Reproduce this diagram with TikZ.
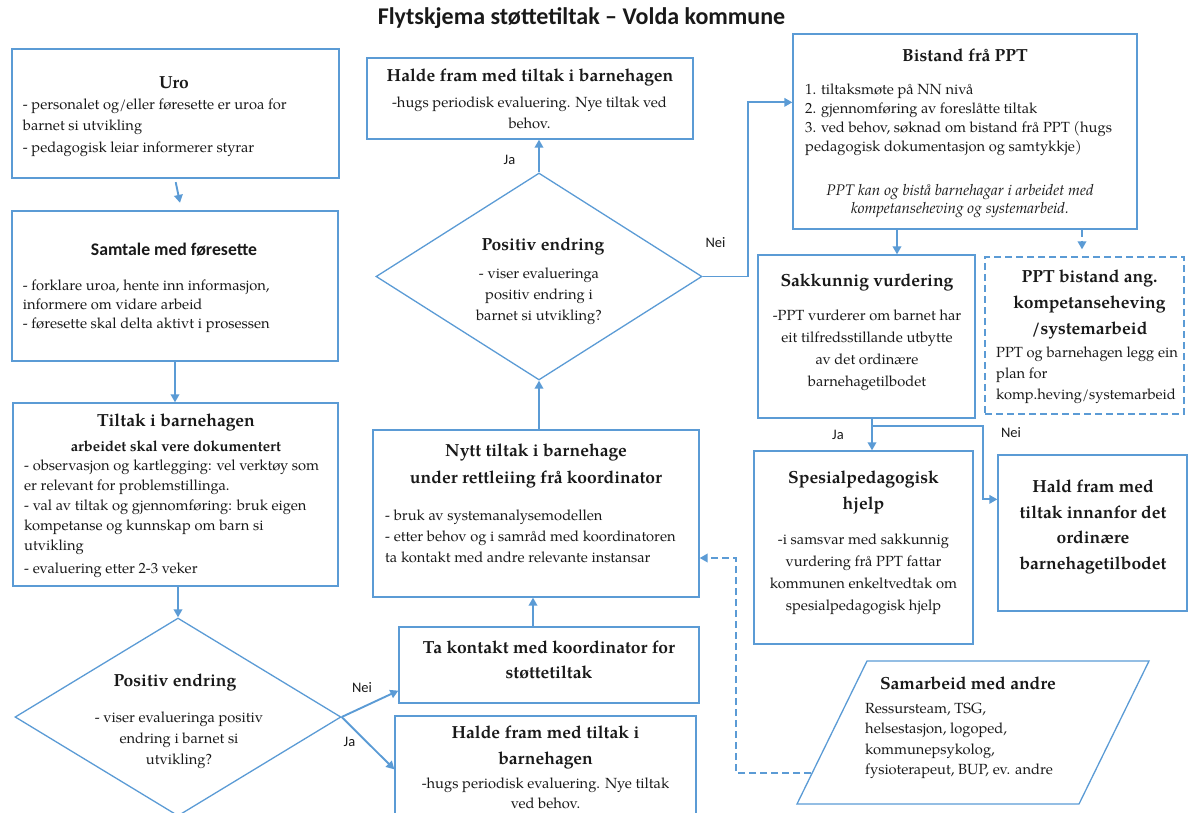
\documentclass[tikz,border=0pt]{standalone}
\usepackage{fontspec}
\setmainfont{texgyrepagella}[Extension=.otf, UprightFont=*-regular, BoldFont=*-bold, ItalicFont=*-italic, BoldItalicFont=*-bolditalic]
\newfontfamily\sansfnt{Carlito}
\usetikzlibrary{arrows.meta,shapes.geometric,calc}
\definecolor{lineblue}{RGB}{91,155,213}
\definecolor{txt}{RGB}{25,25,25}
\begin{document}
\begin{tikzpicture}[x=1pt,y=-1pt,
  tbox/.style={draw=lineblue, line width=1.3pt, inner sep=0pt, rectangle},
  dbox/.style={tbox, dash pattern=on 7pt off 4pt},
  dia/.style={draw=lineblue, line width=1.3pt, diamond, inner sep=0pt},
  hd/.style={font=\bfseries\fontsize{17.5}{#1}\selectfont, align=center, inner sep=0pt, text=txt},
  hd/.default=26,
  bd/.style={font=\fontsize{14.7}{#1}\selectfont, align=left, inner sep=0pt, text=txt, anchor=west},
  bd/.default=21,
  bdc/.style={font=\fontsize{14.7}{#1}\selectfont, align=center, inner sep=0pt, text=txt},
  bdc/.default=21,
  lab/.style={font=\sansfnt\fontsize{14.5}{16}\selectfont, inner sep=0pt, text=txt},
  arr/.style={draw=lineblue, line width=1.9pt, -{Triangle[length=8pt,width=8.5pt]}},
  darr/.style={arr, dash pattern=on 7pt off 4pt}
]
\useasboundingbox (0,0) rectangle (1188,813);
\clip (0,0) rectangle (1188,813);

% title
\node[font=\sansfnt\bfseries\fontsize{24}{28}\selectfont, inner sep=0pt, text=txt] (title) at (581.5,18) {Flytskjema støttetiltak – Volda kommune};

% boxes
\node[tbox, minimum width=327pt, minimum height=129pt] (uro) at (175.5,113.5) {};
\node[tbox, minimum width=326pt, minimum height=150pt] (sam) at (175,286) {};
\node[tbox, minimum width=325pt, minimum height=183pt] (til) at (175.5,494.5) {};
\node[dia, minimum width=326pt, minimum height=198pt] (d1) at (178,717) {};
\node[tbox, minimum width=326pt, minimum height=81pt] (h1) at (530,98.5) {};
\node[dia, minimum width=326pt, minimum height=207pt] (d2) at (539,276.5) {};
\node[tbox, minimum width=326pt, minimum height=167pt] (nytt) at (536,513.5) {};
\node[tbox, minimum width=300pt, minimum height=76pt] (ta) at (549,665) {};
\node[tbox, minimum width=301pt, minimum height=119pt] (h2) at (545.5,775.5) {};
\node[tbox, minimum width=344pt, minimum height=195pt] (bis) at (965,131.5) {};
\node[tbox, minimum width=217pt, minimum height=163pt] (sak) at (866.5,336.5) {};
\node[dbox, minimum width=199pt, minimum height=157pt] (pptb) at (1084.5,335.5) {};
\node[tbox, minimum width=219pt, minimum height=193pt] (spes) at (863.5,547.5) {};
\node[tbox, minimum width=189pt, minimum height=156pt] (hald) at (1092.5,533) {};
\draw[draw=lineblue, line width=1.3pt] (867,661) -- (1149,661) -- (1079,804) -- (797,804) -- cycle;
\coordinate (samL) at (811,773);

% texts
\node[hd] (uroH) at (174,82.7) {Uro};
\node[bd=21.5] (uroB) at (22.7,127.5) {- personalet og/eller føresette er uroa for\\barnet si utvikling\\- pedagogisk leiar informerer styrar};

\node[font=\sansfnt\bfseries\fontsize{17.7}{20}\selectfont, inner sep=0pt, text=txt] (samH) at (174,250) {Samtale med føresette};
\node[bd=19] (samB) at (22.7,306) {- forklare uroa, hente inn informasjon,\\informere om vidare arbeid\\- føresette skal delta aktivt i prosessen};

\node[hd] (tilH) at (176,422.7) {Tiltak i barnehagen};
\node[font=\bfseries\fontsize{14.7}{18}\selectfont, inner sep=0pt, text=txt] (tilS) at (176,446.7) {arbeidet skal vere dokumentert};
\node[bd=20] (tilB) at (24,518.7) {- observasjon og kartlegging: vel verktøy som\\er relevant for problemstillinga.\\- val av tiltak og gjennomføring: bruk eigen\\kompetanse og kunnskap om barn si\\utvikling\\[3pt]- evaluering etter 2-3 veker};

\node[hd] (d1H) at (175,683) {Positiv endring};
\node[bdc=21] (d1B) at (179,740) {- viser evalueringa positiv\\endring i barnet si\\utvikling?};

\node[hd] (d2H) at (543,246.7) {Positiv endring};
\node[bdc=21] (d2B) at (539,296.7) {- viser evalueringa\\positiv endring i\\barnet si utvikling?};

\node[hd] (h1H) at (530,78) {Halde fram med tiltak i barnehagen};
\node[bdc=21] (h1B) at (529.5,112.5) {-hugs periodisk evaluering. Nye tiltak ved\\behov.};

\node[hd=27] (nyH) at (536,465.8) {Nytt tiltak i barnehage\\under rettleiing frå koordinator};
\node[bd=21] (nyB) at (385,536) {- bruk av systemanalysemodellen\\- etter behov og i samråd med koordinatoren\\ta kontakt med andre relevante instansar};

\node[hd=25] (taH) at (549,660.2) {Ta kontakt med koordinator for\\støttetiltak};

\node[hd=25.7] (h2H) at (545.5,747.8) {Halde fram med tiltak i\\barnehagen};
\node[bdc=20.5] (h2B) at (545.5,793.5) {-hugs periodisk evaluering. Nye tiltak\\ved behov.};

\node[hd] (bisH) at (965,55) {Bistand frå PPT};
\node[bd=18.9] (bisB) at (805,120) {1. tiltaksmøte på NN nivå\\2. gjennomføring av foreslåtte tiltak\\3. ved behov, søknad om bistand frå PPT (hugs\\pedagogisk dokumentasjon og samtykkje)};
\node[font=\itshape\fontsize{15.3}{18.3}\selectfont, align=center, inner sep=0pt, text=txt] (bisI) at (960,200.8) {PPT kan og bistå barnehagar i arbeidet med\\kompetanseheving og systemarbeid.};

\node[hd] (sakH) at (867,282.3) {Sakkunnig vurdering};
\node[bdc=21.7] (sakB) at (867,350.2) {-PPT vurderer om barnet har\\eit tilfredsstillande utbytte\\av det ordinære\\barnehagetilbodet};

\node[hd=26] (pptH) at (1089.5,304.2) {PPT bistand ang.\\kompetanseheving\\/systemarbeid};
\node[bd=21.2] (pptB) at (996,375.5) {PPT og barnehagen legg ein\\plan for\\komp.heving/systemarbeid};

\node[hd=26] (spH) at (863.5,493) {Spesialpedagogisk\\hjelp};
\node[bdc=21.7] (spB) at (863.5,574.2) {-i samsvar med sakkunnig\\vurdering frå PPT fattar\\kommunen enkeltvedtak om\\spesialpedagogisk hjelp};

\node[hd=25.9] (haH) at (1093,527) {Hald fram med\\tiltak innanfor det\\ordinære\\barnehagetilbodet};

\node[hd] (saH) at (968,683.3) {Samarbeid med andre};
\node[bd=20.6] (saB) at (865,740.8) {Ressursteam, TSG,\\helsestasjon, logoped,\\kommunepsykolog,\\fysioterapeut, BUP, ev. andre};

% labels
\node[lab] (ja1) at (509.5,160) {Ja};
\node[lab] (nei1) at (715.5,242.7) {Nei};
\node[lab] (nei2) at (362,687.3) {Nei};
\node[lab] (ja2) at (349.5,741.7) {Ja};
\node[lab] (ja3) at (838,435) {Ja};
\node[lab] (nei3) at (1011,432.7) {Nei};

% connectors
\draw[arr] ($(uro.south)+(0.2,3.5)$) -- ($(sam.north)+(5,-7.5)$);
\draw[arr] (sam.south) -- (sam.south |- til.north);
\draw[arr] (d1.north |- til.south) -- (d1.north);
\draw[arr] (d1.east) -- ($(ta.south west)+(0,-13)$);
\draw[arr] (d1.east) -- ($(h2.north west)+(0,54)$);
\coordinate (taTop) at ($(ta.north)+(-16,0)$);
\draw[arr] (taTop) -- (taTop |- nytt.south);
\draw[arr] (d2.south |- nytt.north) -- (d2.south);
\draw[arr] (d2.north) -- (d2.north |- h1.south);
\draw[arr] (d2.east) -- ++(45,0) |- ($(bis.north west)+(0,69)$);
\coordinate (sakTop) at ($(sak.north)+(30.5,0)$);
\draw[arr] (sakTop |- bis.south) -- (sakTop);
\coordinate (pptT) at ($(pptb.north)+(-2.5,-7)$);
\draw[darr] (pptT |- bis.south) -- (pptT);
\coordinate (sakS) at ($(sak.south)+(5.5,0)$);
\draw[arr] (sakS) -- (sakS |- spes.north);
\draw[arr] ($(sakS)+(0,7)$) -- ++(111,0) |- ($(hald.north west)+(0,45)$);
\draw[darr] (samL) -- ++(-75,0) |- ($(nytt.east)+(0,44.5)$);
\end{tikzpicture}
\end{document}
